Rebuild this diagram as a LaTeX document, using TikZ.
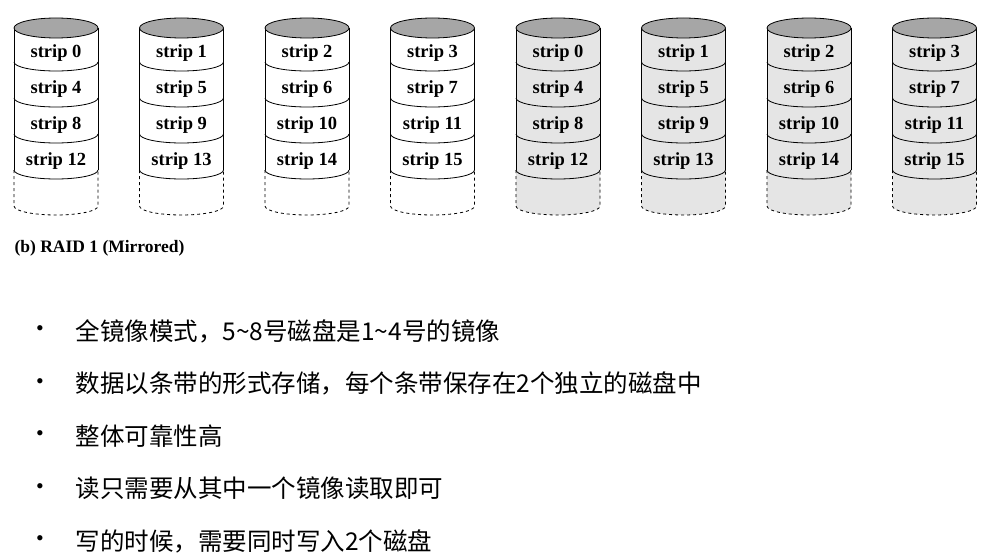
\documentclass[tikz,border=0pt]{standalone}
\usepackage{fontspec}
\setmainfont{Liberation Serif}
\newfontfamily\cjk{Noto Sans CJK SC}
\begin{document}
\begin{tikzpicture}[x=1pt,y=-1pt,
  striptext/.style={font=\fontsize{18.5}{20}\selectfont\bfseries},
  bullettext/.style={anchor=west,font=\fontsize{24.5}{28}\cjk}]
\useasboundingbox (0,0) rectangle (995,559);
% disks
\foreach \i in {0,...,7}{
  \pgfmathsetmacro{\xl}{14+125.5*\i}
  \pgfmathsetmacro{\xc}{\xl+42}
  \pgfmathtruncatemacro{\d}{mod(\i,4)}
  \ifnum\i>3 \def\bodyfill{gray!20}\else\def\bodyfill{white}\fi
  \fill[\bodyfill] (\xl,28) -- (\xl,206) arc(180:0:42 and 9) -- (\xl+84,28) -- cycle;
  \draw[thick] (\xl,28) -- (\xl,170) (\xl+84,28) -- (\xl+84,170);
  \draw[thick,dashed] (\xl,170) -- (\xl,206) arc(180:0:42 and 9) -- (\xl+84,170);
  \draw[thick,fill=gray!70] (\xc,28) ellipse (42 and 10);
  \foreach \k in {0,...,3}{
    \draw[thick] (\xl,62+36*\k) arc(180:0:42 and 9);
    \pgfmathtruncatemacro{\s}{\d+4*\k}
    \node[striptext] (s\i-\k) at (\xc,53+36*\k) {strip \s};
  }
}
\node[anchor=west,font=\fontsize{17.5}{19}\selectfont\bfseries] (cap) at (11,248) {(b) RAID 1 (Mirrored)};
% bullets
\foreach \t [count=\n from 0] in {全镜像模式，5\char`~8号磁盘是1\char`~4号的镜像,
  数据以条带的形式存储，每个条带保存在2个独立的磁盘中,
  整体可靠性高, 读只需要从其中一个镜像读取即可, 写的时候，需要同时写入2个磁盘}{
  \node[font=\fontsize{22}{24}\selectfont] (b\n) at (40,331+52.5*\n) {•};
  \node[bullettext] (t\n) at (72,331+52.5*\n) {\t};
}
\end{tikzpicture}
\end{document}
